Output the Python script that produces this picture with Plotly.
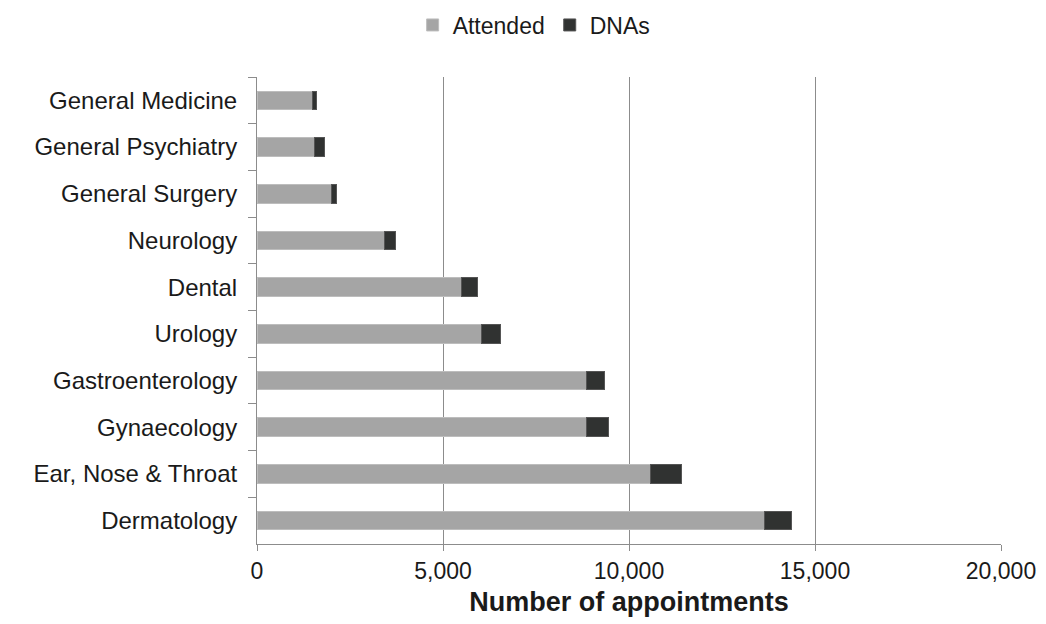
import plotly.graph_objects as go

categories = ["General Medicine", "General Psychiatry", "General Surgery", "Neurology",
              "Dental", "Urology", "Gastroenterology", "Gynaecology",
              "Ear, Nose & Throat", "Dermatology"]
attended = [1505, 1540, 2015, 3440, 5500, 6040, 8850, 8850, 10580, 13630]
dnas = [100, 270, 135, 295, 430, 510, 495, 600, 835, 740]
x_ticks = [0, 5000, 10000, 15000, 20000]
x_tick_labels = ["0", "5,000", "10,000", "15,000", "20,000"]

font = "Liberation Sans, Arial, sans-serif"

fig = go.Figure()
fig.add_trace(go.Bar(y=categories, x=attended, name="Attended", orientation="h",
                     marker=dict(color="#a5a5a5", line=dict(color="#bdbdbd", width=1))))
fig.add_trace(go.Bar(y=categories, x=dnas, name="DNAs", orientation="h",
                     marker=dict(color="#303231", line=dict(color="#555555", width=1))))

fig.update_layout(
    barmode="stack",
    bargap=0.6,
    width=1046, height=624,
    margin=dict(l=249, r=53, t=69, b=88, autoexpand=False),
    paper_bgcolor="white", plot_bgcolor="white",
    font=dict(family=font, size=23, color="#1a1a1a"),
    legend=dict(orientation="h", xref="container", yref="container",
                x=0.503, xanchor="center", y=1 - 17/624, yanchor="middle",
                font=dict(size=23), traceorder="normal", itemwidth=30),
    showlegend=True,
)
fig.update_xaxes(
    range=[0, 20000], tickvals=x_ticks, ticktext=x_tick_labels,
    showgrid=True, gridcolor="#8c8c8c", gridwidth=1,
    showline=True, linecolor="#8c8c8c", linewidth=1,
    ticks="outside", ticklen=6, tickcolor="#8c8c8c",
    zeroline=False, tickfont=dict(size=23),
    title=dict(text="<b>Number of appointments</b>", font=dict(size=27), standoff=9),
)
fig.update_yaxes(
    autorange="reversed", type="category",
    showline=True, linecolor="#8c8c8c", linewidth=1,
    ticks="outside", ticklen=8, tickcolor="#8c8c8c", tickson="boundaries",
    ticklabelstandoff=14, tickfont=dict(size=24),
    showgrid=False,
)

fig.write_html("out.html")
